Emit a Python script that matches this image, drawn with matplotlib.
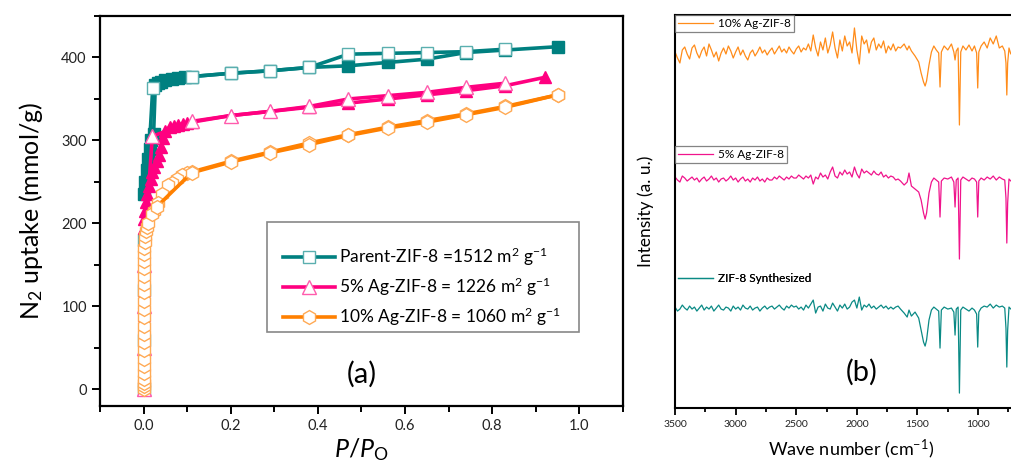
import matplotlib.pyplot as plt
from matplotlib.patches import Rectangle
from matplotlib.lines import Line2D
from matplotlib.ticker import MultipleLocator

plt.rcParams['font.family'] = ['Lato', 'DejaVu Sans']
plt.rcParams['mathtext.fontset'] = 'custom'
plt.rcParams['mathtext.rm'] = 'Lato'
plt.rcParams['mathtext.it'] = 'Lato:italic'

# ---- (a) N2 isotherms ----
teal_ads_x = [0.0, 0.0, 0.0, 0.001, 0.021,
              0.11, 0.2, 0.29, 0.38, 0.47, 0.56, 0.65, 0.74, 0.83]
teal_ads_y = [0, 60, 120, 180, 363,
              377, 381, 384, 388, 404, 405, 406, 407, 410]
teal_des_x = [0.95, 0.83, 0.74, 0.65, 0.56, 0.47, 0.38, 0.29, 0.2, 0.11, 0.095, 0.08,
              0.065, 0.05, 0.04, 0.033, 0.027, 0.023, 0.018, 0.014, 0.01, 0.007,
              0.004, 0.002]
teal_des_y = [413, 409, 406, 398, 394, 390, 388, 384, 381, 377, 376, 375,
              374, 373, 371, 369, 367, 308, 300, 290, 278, 265,
              250, 235]

pink_ads_x = [0.0, 0.0, 0.0, 0.0, 0.02,
              0.11, 0.2, 0.29, 0.38, 0.47, 0.56, 0.65, 0.74, 0.83]
pink_ads_y = [0, 50, 100, 150, 305,
              323, 330, 335, 341, 350, 354, 358, 364, 369]
pink_des_x = [0.92, 0.83, 0.74, 0.65, 0.56, 0.47, 0.38, 0.29, 0.2, 0.11, 0.1, 0.09,
              0.08, 0.07, 0.06, 0.05, 0.045, 0.04, 0.035, 0.03, 0.025, 0.02, 0.016,
              0.012, 0.009, 0.006, 0.004, 0.002, 0.001, 0.0, 0.0, 0.0, 0.0, 0.0, 0.0,
              0.0, 0.0, 0.0, 0.0, 0.0, 0.0, 0.0]
pink_des_y = [376, 366, 360, 355, 350, 345, 340, 335, 330, 322, 321, 320,
              319, 318, 316, 312, 303, 292, 282, 275, 268, 262, 254,
              245, 236, 226, 215, 205, 195, 180, 165, 150, 135, 120, 105,
              90, 75, 60, 45, 30, 15, 0]

orange_ads_x = [0.0, 0.0, 0.0, 0.0, 0.0, 0.0, 0.0, 0.0, 0.0, 0.0, 0.0, 0.0, 0.0, 0.0,
                0.0, 0.0, 0.001, 0.001, 0.001, 0.002, 0.002, 0.003, 0.004, 0.005,
                0.007, 0.011, 0.02, 0.03, 0.11, 0.2, 0.29, 0.38, 0.47, 0.56, 0.65,
                0.74, 0.83, 0.95]
orange_ads_y = [0, 4, 8, 13, 20, 28, 37, 47, 57, 67, 77, 87, 97, 107,
                117, 127, 137, 146, 155, 163, 171, 178, 185, 191,
                196, 201, 211, 220, 261, 274, 285, 295, 306, 315, 322,
                331, 340, 355]
orange_des_x = [0.95, 0.83, 0.74, 0.65, 0.56, 0.47, 0.38, 0.29, 0.2, 0.11, 0.1,
                0.089, 0.077, 0.066, 0.055, 0.043, 0.032, 0.025]
orange_des_y = [355, 341, 332, 324, 316, 307, 297, 286, 275, 262, 261,
                258, 254, 249, 246, 236, 225, 215]

labels_a = ['Parent-ZIF-8 =1512 m$^{2}$ g$^{-1}$',
            '5% Ag-ZIF-8 = 1226 m$^{2}$ g$^{-1}$',
            '10% Ag-ZIF-8 = 1060 m$^{2}$ g$^{-1}$']

# ---- (b) IR spectra ----
wn = [3500, 3480, 3460, 3440, 3420, 3400, 3380, 3360, 3340, 3320,
      3300, 3280, 3260, 3240, 3220, 3200, 3180, 3160, 3140, 3120,
      3100, 3080, 3060, 3040, 3020, 3000, 2980, 2960, 2940, 2920,
      2900, 2880, 2860, 2840, 2820, 2800, 2780, 2760, 2740, 2720,
      2700, 2680, 2660, 2640, 2620, 2600, 2580, 2560, 2540, 2520,
      2500, 2480, 2460, 2440, 2420, 2400, 2380, 2360, 2340, 2320,
      2300, 2280, 2260, 2240, 2220, 2200, 2180, 2160, 2140, 2120,
      2100, 2080, 2060, 2040, 2020, 2000, 1980, 1960, 1940, 1920,
      1900, 1880, 1860, 1840, 1820, 1800, 1780, 1760, 1740, 1720,
      1700, 1680, 1660,
      1640, 1610, 1585, 1570, 1550, 1520, 1490, 1470, 1450, 1437, 1425, 1405, 1385,
      1365, 1345, 1325, 1314, 1303, 1280, 1250, 1220, 1200, 1190, 1180, 1165, 1154,
      1143, 1125, 1100, 1075, 1050, 1030, 1012, 1003, 994, 975, 950, 925, 900, 875,
      850, 825, 800, 780, 770, 763, 756, 745, 730, 700]
ir_10ag = [356, 350, 345, 358, 361, 354, 349, 360, 363, 355,
           350, 357, 361, 352, 364, 358, 351, 356, 347, 355,
           360, 354, 362, 357, 350, 356, 361, 353, 358, 352,
           348, 355, 358, 352, 356, 361, 355, 358, 353, 357,
           360, 354, 358, 362, 356, 359, 355, 361, 357, 354,
           359, 362, 356, 360, 358, 364, 357, 373, 360, 352,
           366, 358, 370, 355, 363, 376, 360, 350, 368, 357,
           372, 362, 366, 355, 380, 358, 344, 372, 364, 368,
           355, 366, 370, 358, 364, 360, 367, 355, 362, 358,
           364, 357, 361,
           360, 364, 358, 362, 357, 352, 346, 335, 326, 322, 327, 343, 356,
           362, 358, 355, 321, 356, 362, 358, 364, 356, 348, 357, 360, 283,
           356, 362, 358, 363, 357, 362, 355, 320, 356, 362, 366, 360, 370, 364,
           372, 360, 362, 357, 345, 313, 345, 360, 354, 356]
ir_5ag = [231, 228, 226, 232, 230, 227, 229, 231, 228, 230,
          226, 229, 231, 227, 229, 232, 228, 230, 226, 229,
          230, 227, 229, 232, 228, 230, 226, 229, 231, 227,
          229, 226, 230, 228, 231, 227, 229, 226, 230, 228,
          228, 231, 229, 232, 230, 228, 231, 229, 232, 230,
          230, 233, 231, 229, 232, 230, 233, 224, 231, 229,
          235, 231, 233, 229, 236, 241, 232, 230, 236, 233,
          238, 234, 236, 231, 241, 234, 230, 239, 235, 237,
          235, 233, 237, 234, 233, 236, 231, 233, 230, 232,
          231, 228, 229,
          227, 223, 226, 235, 222, 219, 216, 208, 195, 189, 195, 215, 226,
          230, 228, 226, 191, 227, 230, 229, 231, 226, 201, 228, 230, 149,
          228, 231, 229, 227, 230, 229, 226, 191, 227, 230, 228, 231, 229, 232,
          228, 231, 229, 228, 210, 165, 205, 229, 227, 228]
ir_zif8 = [101, 97, 99, 103, 100, 98, 102, 99, 101, 97,
           100, 103, 98, 101, 99, 102, 97, 100, 103, 99,
           98, 101, 100, 97, 102, 99, 101, 98, 103, 100,
           99, 102, 98, 100, 101, 97, 100, 102, 99, 101,
           102, 99, 101, 103, 100, 98, 102, 100, 103, 101,
           102, 99, 101, 98, 103, 100, 104, 108, 95, 101,
           102, 97, 104, 100, 99, 105, 101, 97, 103, 100,
           104, 99, 101, 106, 108, 100, 111, 98, 103, 101,
           104, 100, 102, 99, 101, 103, 100, 102, 99, 101,
           99, 101, 102,
           99, 95, 91, 98, 92, 96, 90, 78, 66, 62, 68, 88, 98,
           101, 99, 97, 60, 98, 101, 99, 100, 96, 73, 99, 101, 15,
           98, 101, 99, 97, 100, 98, 94, 61, 96, 100, 102, 101, 104, 100,
           103, 101, 102, 100, 80, 41, 78, 101, 99, 100]
labels_b = ['10% Ag-ZIF-8', '5% Ag-ZIF-8', 'ZIF-8 Synthesized']

teal = '#008080'
pink = '#FF0080'
orange = '#FF8000'

fig = plt.figure(figsize=(10.11, 4.68), dpi=100)

# ---------- panel (a) ----------
ax1 = fig.add_axes([0.0989, 0.1325, 0.5173, 0.8333])
ax1.plot(teal_des_x, teal_des_y, '-s', color=teal, lw=2.6, ms=8, mfc=teal, mec=teal, zorder=2)
ax1.plot(teal_ads_x, teal_ads_y, '-s', color=teal, lw=2.6, ms=9, mfc='white', mec='#5AAFAF', mew=1, zorder=3)
ax1.plot(pink_des_x, pink_des_y, '-^', color=pink, lw=2.6, ms=8, mfc=pink, mec=pink, zorder=4)
ax1.plot(pink_ads_x, pink_ads_y, '-^', color=pink, lw=2.6, ms=10, mfc='white', mec='#FF5CAD', mew=1, zorder=5)
ax1.plot(orange_des_x, orange_des_y, '-h', color=orange, lw=2.6, ms=10, mfc='white', mec='#FFAA55', mew=1, zorder=6)
ax1.plot(orange_ads_x, orange_ads_y, '-h', color=orange, lw=2.6, ms=10, mfc='white', mec='#FFAA55', mew=1, zorder=7)

ax1.set_xlim(-0.1, 1.1)
ax1.set_ylim(-20, 450)
ax1.set_xticks([0.0, 0.2, 0.4, 0.6, 0.8, 1.0])
ax1.set_yticks([0, 100, 200, 300, 400])
ax1.xaxis.set_minor_locator(MultipleLocator(0.1))
ax1.yaxis.set_minor_locator(MultipleLocator(50))
ax1.tick_params(which='both', direction='out', top=False, right=False, width=1.4,
                labelsize=10.5, labelcolor='#222222')
ax1.tick_params(which='major', length=6)
ax1.tick_params(which='minor', length=4)
for s in ax1.spines.values():
    s.set_linewidth(1.6)
ax1.set_ylabel('N$_{2}$ uptake (mmol/g)', fontsize=18, labelpad=12)
ax1.set_xlabel('$\\mathit{P/P}_{\\mathrm{O}}$', fontsize=18, labelpad=2)
ax1.text(0.5, 0.08, '(a)', transform=ax1.transAxes, fontsize=21, ha='center', va='center')

ax1.add_patch(Rectangle((0.319, 0.19), 0.597, 0.282, transform=ax1.transAxes,
                        fill=False, edgecolor='#888888', lw=1.2, zorder=8))
handles_a = [
    Line2D([], [], color=teal, lw=2.6, marker='s', ms=9, mfc='white', mec='#5AAFAF'),
    Line2D([], [], color=pink, lw=2.6, marker='^', ms=10, mfc='white', mec='#FF5CAD'),
    Line2D([], [], color=orange, lw=2.6, marker='h', ms=10, mfc='white', mec='#FFAA55'),
]
leg_a = ax1.legend(handles_a, labels_a, loc='center', bbox_to_anchor=(0.616, 0.305),
                   frameon=False, fontsize=12.5, handlelength=3.0, handletextpad=0.2,
                   labelspacing=0.45)
leg_a.set_zorder(9)

# ---------- panel (b) ----------
ax2 = fig.add_axes([0.6677, 0.128, 0.3477, 0.84])
l1, = ax2.plot(wn, ir_10ag, color='#FF8C1A', lw=0.9)
l2, = ax2.plot(wn, ir_5ag, color='#F0148C', lw=0.9)
l3, = ax2.plot(wn, ir_zif8, color='#0A8A85', lw=0.9)
ax2.set_xlim(3500, 600)
ax2.set_ylim(0, 393)
ax2.set_xticks([3500, 3000, 2500, 2000, 1500, 1000])
ax2.xaxis.set_minor_locator(MultipleLocator(250))
ax2.set_yticks([])
ax2.tick_params(which='both', direction='out', top=False, right=False, width=1.3,
                labelsize=7.5, labelcolor='#222222')
ax2.tick_params(which='major', length=5)
ax2.tick_params(which='minor', length=3)
for s in ax2.spines.values():
    s.set_linewidth(1.5)
ax2.set_xlabel('Wave number (cm$^{-1}$)', fontsize=13, labelpad=6)
ax2.set_ylabel('Intensity (a. u.)', fontsize=12.5, labelpad=15)
ax2.text(0.53, 0.09, '(b)', transform=ax2.transAxes, fontsize=21, ha='center', va='center')

for line, lab, ypos, frame in [(l1, labels_b[0], 1.0, True),
                               (l2, labels_b[1], 0.667, True),
                               (l3, labels_b[2], 0.35, False)]:
    lg = ax2.legend([line], [lab], loc='upper left', bbox_to_anchor=(0, ypos),
                    borderaxespad=0, fontsize=8.5, frameon=frame, fancybox=False,
                    edgecolor='#666666', handlelength=3.0, handletextpad=0.4,
                    borderpad=0.25)
    lg.get_frame().set_linewidth(0.9)
    ax2.add_artist(lg)

fig.savefig('out.png', dpi=100)
